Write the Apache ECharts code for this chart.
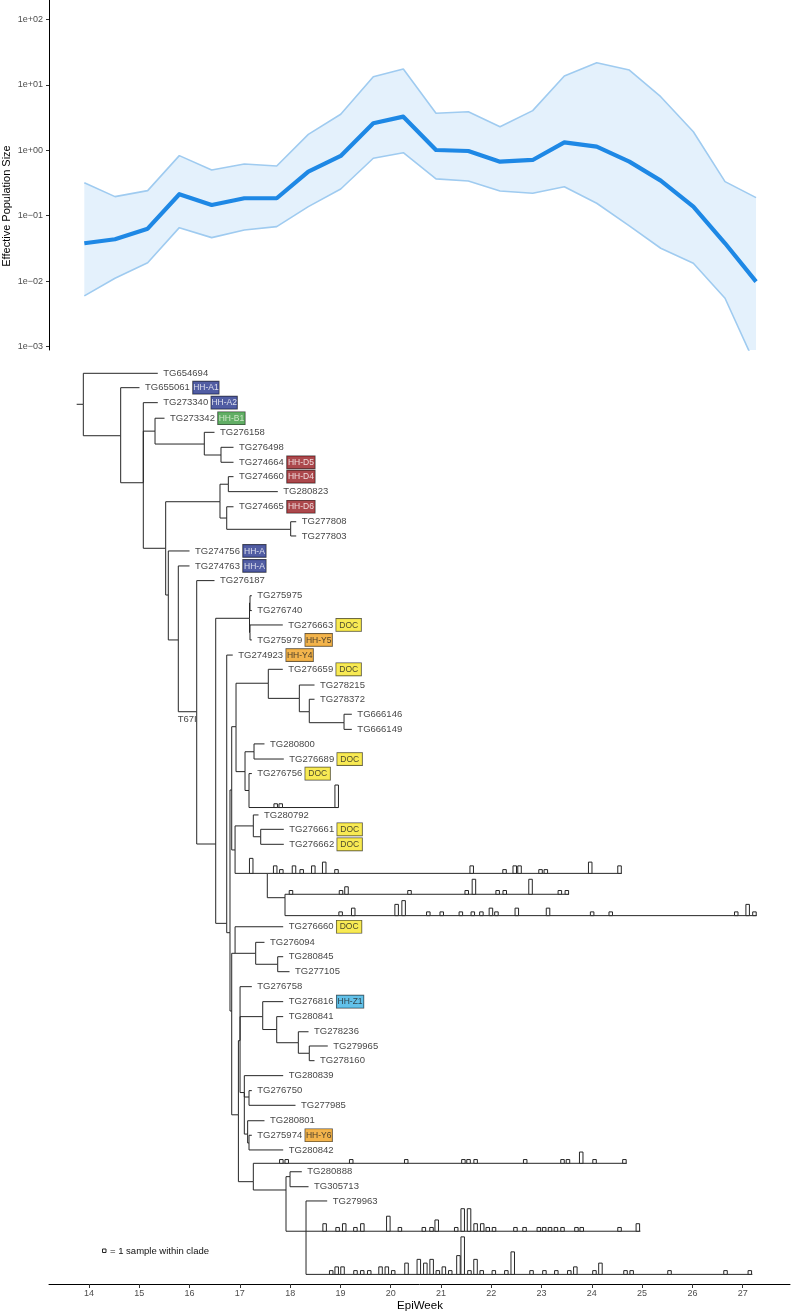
<!DOCTYPE html>
<html><head><meta charset="utf-8">
<script src="https://cdn.jsdelivr.net/npm/echarts@6/dist/echarts.min.js"></script>
<style>html,body{margin:0;padding:0;background:#fff}#c{width:792px;height:1313px}</style>
</head><body><div id="c"></div>
<script>
// ---------- skyline (effective population size) ----------
const skyTimes  = [13.907,14.517,15.167,15.796,16.440,17.089,17.733,18.362,19.006,19.654,20.251,20.901,21.544,22.174,22.824,23.453,24.097,24.746,25.370,26.019,26.649,27.266];
const skyMedian = [0.038,0.0438,0.0635,0.213,0.146,0.185,0.185,0.471,0.818,2.58,3.26,1.01,0.975,0.67,0.711,1.32,1.135,0.67,0.344,0.138,0.038,0.00986];
const skyUpper  = [0.32,0.196,0.242,0.828,0.5,0.618,0.575,1.75,3.55,13.3,17.4,3.67,3.88,2.29,4.03,13.6,21.7,16.8,6.58,1.92,0.332,0.189];
const skyLower  = [0.00597,0.0111,0.0192,0.0658,0.0463,0.0607,0.0682,0.138,0.256,0.755,0.918,0.365,0.34,0.239,0.221,0.278,0.155,0.0698,0.0319,0.0188,0.0055,0.0005];
const neTickExponents = [-3,-2,-1,0,1,2];
const weekTicks = [14,15,16,17,18,19,20,21,22,23,24,25,26,27];

// ---------- tree: [id, parent, time (EpiWeek), row] ----------
const treeNodes = [
['s0',null,13.755,2.09],['r','s0',13.887,2.09],
['TG654694','r',15.368,0],['A','r',14.630,4.21],
['TG655061','A',15.004,0.97],['B','A',15.080,7.38],
['TG273340','B',15.368,1.98],['E','B',15.313,3.90],
['TG273342','E',15.502,3.03],['F','E',16.293,4.77],
['TG276158','F',16.496,3.98],['G','F',16.625,5.51],
['TG276498','G',16.874,4.99],['TG274664','G',16.874,6.00],
['D','B',15.525,11.80],['H','D',16.605,8.66],['I','H',16.771,7.48],
['TG274660','I',16.874,6.97],['TG280823','I',17.755,7.98],
['J','H',16.739,9.76],['TG274665','J',16.874,9.00],['K','J',18.011,10.52],
['TG277808','K',18.121,10.01],['TG277803','K',18.121,10.97],
['L','D',15.577,14.95],['TG274756','L',15.999,11.98],['M','L',15.776,17.98],
['TG274763','M',15.999,12.99],['N','M',16.142,22.82],
['TG276187','N',16.496,13.98],['O','N',16.520,31.74],
['Q','O',17.192,16.52],['Q1','Q',17.202,15.49],
['TG275975','Q1',17.238,15.00],['TG276740','Q1',17.238,16.00],
['Q2','Q',17.202,17.48],['TG276663','Q2',17.854,16.97],['TG275979','Q2',17.238,17.98],
['P','O',16.739,37.09],['TG274923','P',16.859,19.00],
['AG','P',16.804,37.72],['W','AG',16.838,28.10],['V','W',16.924,23.83],
['R','V',17.566,20.90],['TG276659','R',17.854,19.96],['S','R',18.183,21.92],
['TG278215','S',18.485,21.02],['T','S',18.381,22.82],['TG278372','T',18.485,21.98],
['U','T',19.072,23.56],['TG666146','U',19.227,22.99],['TG666149','U',19.227,24.01],
['X','V',17.103,26.86],['Y','X',17.282,25.52],
['TG280800','Y',17.490,24.99],['TG276689','Y',17.874,26.01],
['Z','X',17.182,28.13],['TG276756','Z',17.238,26.99],['C1','Z',18.958,29.28],
['AA','W',16.905,32.14],['AB','AA',17.268,30.52],['TG280792','AB',17.371,29.78],
['AC','AB',17.415,31.25],['TG276661','AC',17.874,30.75],['TG276662','AC',17.874,31.76],
['AD','AA',17.546,33.72],['C2','AD',24.595,33.72],
['AF','AD',17.898,35.36],['C3','AF',23.547,35.13],['C4','AF',27.280,36.57],
['BF','AG',16.838,43.0],['AL','BF',16.905,39.11],['TG276660','AL',17.862,37.32],
['AJ','AL',17.315,39.11],['TG276094','AJ',17.490,38.37],['AK','AJ',17.753,39.85],
['TG280845','AK',17.862,39.34],['TG277105','AK',17.988,40.35],
['BE','BF',16.971,50.0],['AM','BE',17.004,45.0],['TG276758','AM',17.238,41.36],
['AN','AM',17.455,43.38],['TG276816','AN',17.862,42.37],['AO','AN',17.733,44.25],
['TG280841','AO',17.862,43.38],['AP','AO',18.163,45.14],['TG278236','AP',18.366,44.40],
['AQ','AP',18.381,45.85],['TG279965','AQ',18.749,45.36],['TG278160','AQ',18.485,46.35],
['AZ','AM',17.089,48.5],['TG280839','AZ',17.862,47.36],
['BB','AZ',17.182,48.8],['TG276750','BB',17.238,48.37],['TG277985','BB',18.107,49.36],
['BC','AZ',17.155,51.3],['TG280801','BC',17.490,50.40],
['BD','BC',17.182,51.9],['TG275974','BD',17.238,51.38],['TG280842','BD',17.862,52.37],
['AR','BE',17.268,54.51],['C5','AR',24.694,53.27],
['AS','AR',17.918,55.07],['AT','AS',17.998,54.17],
['TG280888','AT',18.232,53.84],['TG305713','AT',18.366,54.85],
['AU','AS',18.316,57.85],['TG279963','AU',18.737,55.81],
['C6','AU',24.965,57.85],['C7','AU',27.192,60.76]
];
const tipTags = [['TG655061','HH-A1'],['TG273340','HH-A2'],['TG273342','HH-B1'],['TG274664','HH-D5'],
['TG274660','HH-D4'],['TG274665','HH-D6'],['TG274756','HH-A'],['TG274763','HH-A'],['TG276663','DOC'],
['TG275979','HH-Y5'],['TG274923','HH-Y4'],['TG276659','DOC'],['TG276689','DOC'],['TG276756','DOC'],
['TG276661','DOC'],['TG276662','DOC'],['TG276660','DOC'],['TG276816','HH-Z1'],['TG275974','HH-Y6']];
const nodeLabels = [['N','T67I']];

// ---------- collapsed clades: samples per day [time, count] ----------
const clade1Bars = [[17.713,1],[17.813,1],[18.926,6]];
const clade2Bars = [[17.226,4],[17.703,2],[17.825,1],[18.077,2],[18.230,1],[18.461,2],[18.678,3],[18.922,1],[21.611,2],[22.264,1],[22.467,2],[22.562,2],[22.980,1],[23.085,1],[23.968,3],[24.551,2]];
const clade3Bars = [[18.017,1],[19.012,1],[19.121,2],[20.374,1],[21.512,1],[21.655,4],[22.127,1],[22.268,1],[22.781,4],[23.364,1],[23.503,1]];
const clade4Bars = [[19.004,1],[19.255,2],[20.118,3],[20.257,4],[20.748,1],[21.015,1],[21.395,1],[21.633,1],[21.804,1],[21.993,2],[22.103,1],[22.508,2],[23.129,2],[24.006,1],[24.376,1],[26.872,1],[27.099,3],[27.234,1]];
const clade5Bars = [[17.825,1],[17.932,1],[19.215,1],[20.309,1],[21.446,1],[21.548,1],[21.689,1],[22.675,1],[23.417,1],[23.525,1],[23.789,3],[24.054,1],[24.648,1]];
const clade6Bars = [[18.686,2],[18.944,1],[19.076,2],[19.298,1],[19.436,2],[19.953,4],[20.183,1],[20.659,1],[20.812,1],[20.915,3],[21.303,1],[21.432,6],[21.558,6],[21.689,2],[21.820,2],[21.930,1],[22.055,1],[22.481,1],[22.662,1],[22.946,1],[23.052,1],[23.169,1],[23.286,1],[23.417,1],[23.694,1],[23.799,1],[24.551,1],[24.915,2]];
const clade7Bars = [[18.817,1],[18.926,2],[19.042,2],[19.300,1],[19.434,1],[19.573,1],[19.798,2],[19.923,2],[20.050,1],[20.315,3],[20.559,4],[20.689,3],[20.814,4],[20.937,1],[21.057,2],[21.184,1],[21.347,5],[21.432,10],[21.566,1],[21.687,4],[21.810,1],[22.051,1],[22.300,1],[22.427,6],[22.801,1],[23.057,1],[23.294,1],[23.552,1],[23.672,2],[24.052,1],[24.171,3],[24.670,1],[24.792,1],[25.545,1],[26.659,1],[27.142,1]];
const cladeHistograms = [['C1',clade1Bars],['C2',clade2Bars],['C3',clade3Bars],['C4',clade4Bars],['C5',clade5Bars],['C6',clade6Bars],['C7',clade7Bars]];

// ---------- build ----------
const FONT = '"Liberation Sans", Arial, Helvetica, sans-serif';
const X_MIN = 13.2045, X_MAX = 27.941;
const byId = {}; treeNodes.forEach(n => byId[n[0]] = n);
const edgeData = treeNodes.filter(n => n[1]).map(n => { const p = byId[n[1]]; return [p[2], p[3], n[2], n[3]]; });
const barData = [];
cladeHistograms.forEach(([id, bars]) => { const n = byId[id]; bars.forEach(([t, c]) => barData.push([t, n[3], c])); });
const tagOf = {}; tipTags.forEach(([id, tag]) => tagOf[id] = tag);
const tips = treeNodes.filter(n => n[0].startsWith('TG'));
function tagKey(tag){
  if (tag === 'DOC') return 'tDOC';
  if (tag === 'HH-A') return 'tA4';
  return 't' + tag.charAt(3);
}
function tagStyle(bg, fg, w){
  return {backgroundColor:bg, color:fg, borderColor:'#1a1a1a', borderWidth:0.6, fontSize:8.5, fontFamily:FONT,
          width:w, align:'center', height:11, lineHeight:11, padding:[1,1,0.5,1], verticalAlign:'middle'};
}
const rich = {
  n: {fontSize:9.5, fontFamily:FONT, color:'#111111', padding:[0,3,0,0], verticalAlign:'middle'},
  tA: tagStyle('#26358c','#ffffff',24),
  tA4: tagStyle('#26358c','#ffffff',21),
  tB: tagStyle('#399a3e','#e8f5e0',25),
  tD: tagStyle('#971a1f','#ffffff',26),
  tDOC: tagStyle('#f6e529','#222222',23),
  tY: tagStyle('#f0a11f','#222222',25),
  tZ: tagStyle('#3bb2e3','#222222',25)
};
const tipData = tips.map(n => ({value:[n[2], n[3]], name:n[0], tag:tagOf[n[0]] || null}));
const fmtExp = v => { const e = Math.round(v); if (Math.abs(v - e) > 1e-6) return ''; return '1e' + (e < 0 ? '\u2212' : '+') + String(Math.abs(e)).padStart(2,'0'); };

const chart = echarts.init(document.getElementById('c'), null, {renderer:'canvas'});
chart.setOption({
  animation:false,
  backgroundColor:'#ffffff',
  grid:[
    {left:49, right:2, top:0, height:350},
    {left:49, right:2, top:350, bottom:29}
  ],
  xAxis:[
    {gridIndex:0, type:'value', min:X_MIN, max:X_MAX, show:false},
    {gridIndex:1, type:'value', min:X_MIN, max:X_MAX, position:'bottom',
     axisLine:{show:true, onZero:false, lineStyle:{color:'#000', width:1}},
     axisTick:{show:true, length:4, lineStyle:{color:'#333'}, customValues:weekTicks},
     axisLabel:{show:true, color:'#4d4d4d', fontSize:9, fontFamily:FONT, margin:5, customValues:weekTicks,
                formatter:v => String(Math.round(v))},
     splitLine:{show:false}}
  ],
  yAxis:[
    {gridIndex:0, type:'value', min:-3.0504, max:2.2948,
     axisLine:{show:true, onZero:false, lineStyle:{color:'#000', width:1}},
     axisTick:{show:true, length:3, lineStyle:{color:'#333'}, customValues:neTickExponents},
     axisLabel:{show:true, color:'#4d4d4d', fontSize:9, fontFamily:FONT, margin:6, customValues:neTickExponents, formatter:fmtExp},
     splitLine:{show:false}},
    {gridIndex:1, type:'value', min:-1.571, max:61.409, inverse:true, show:false}
  ],
  series:[
    {type:'custom', xAxisIndex:0, yAxisIndex:0, clip:true, silent:true, data:[[skyTimes[0], Math.log10(skyMedian[0])]],
     renderItem:(params, api) => {
       const pts = [];
       skyTimes.forEach((t,i) => pts.push(api.coord([t, Math.log10(skyUpper[i])])));
       for (let i = skyTimes.length - 1; i >= 0; i--) pts.push(api.coord([skyTimes[i], Math.log10(skyLower[i])]));
       return {type:'polygon', shape:{points:pts}, style:{fill:'#e4f1fc', stroke:null}};
     }},
    {type:'line', xAxisIndex:0, yAxisIndex:0, silent:true, showSymbol:false, symbol:'none',
     data:skyTimes.map((t,i) => [t, Math.log10(skyUpper[i])]), lineStyle:{color:'#9fcbf0', width:1.6}, z:3},
    {type:'line', xAxisIndex:0, yAxisIndex:0, silent:true, showSymbol:false, symbol:'none',
     data:skyTimes.map((t,i) => [t, Math.log10(skyLower[i])]), lineStyle:{color:'#9fcbf0', width:1.6}, z:3},
    {type:'line', xAxisIndex:0, yAxisIndex:0, silent:true, showSymbol:false, symbol:'none',
     data:skyTimes.map((t,i) => [t, Math.log10(skyMedian[i])]), lineStyle:{color:'#1e88e5', width:4.2, join:'round'}, z:4},
    // tree branches
    {type:'custom', xAxisIndex:1, yAxisIndex:1, silent:true, clip:false, data:edgeData,
     encode:{x:[0,2], y:[1,3]},
     renderItem:(params, api) => {
       const a = api.coord([api.value(0), api.value(1)]);
       const b = api.coord([api.value(0), api.value(3)]);
       const c = api.coord([api.value(2), api.value(3)]);
       return {type:'polyline', shape:{points:[a,b,c]}, style:{stroke:'#262626', lineWidth:1, fill:null}};
     }, z:2},
    // clade sample histograms
    {type:'custom', xAxisIndex:1, yAxisIndex:1, silent:true, clip:false, data:barData,
     encode:{x:0, y:1},
     renderItem:(params, api) => {
       const t = api.value(0), row = api.value(1), c = api.value(2);
       const halfW = 0.035, unit = 0.2529;
       const p0 = api.coord([t - halfW, row - c * unit]);
       const p1 = api.coord([t + halfW, row]);
       return {type:'rect', shape:{x:p0[0], y:p0[1], width:p1[0]-p0[0], height:p1[1]-p0[1]},
               style:{fill:'#ffffff', stroke:'#262626', lineWidth:1}};
     }, z:3},
    // tip labels
    {type:'scatter', xAxisIndex:1, yAxisIndex:1, silent:true, symbolSize:0, data:tipData, z:5,
     label:{show:true, position:'right', distance:5.5, rich:rich,
            formatter:p => { const d = p.data; return d.tag ? '{n|' + d.name + '}{' + tagKey(d.tag) + '|' + d.tag + '}' : '{n|' + d.name + '}'; }}},
    // node annotations
    {type:'scatter', xAxisIndex:1, yAxisIndex:1, silent:true, symbolSize:0, z:5,
     data:nodeLabels.map(([id, txt]) => ({value:[byId[id][2], byId[id][3]], name:txt})),
     label:{show:true, position:'left', distance:0, offset:[0,8], fontSize:9.5, fontFamily:FONT, color:'#111111',
            formatter:p => p.name}}
  ],
  graphic:[
    {type:'text', x:7, y:206, rotation:Math.PI/2, style:{text:'Effective Population Size', font:'11px ' + FONT, fill:'#000', align:'center', verticalAlign:'middle'}},
    {type:'text', x:420, y:1306, style:{text:'EpiWeek', font:'11.5px ' + FONT, fill:'#000', align:'center', verticalAlign:'middle'}},
    {type:'rect', shape:{x:102.5, y:1249, width:3.5, height:3.5}, style:{fill:'#fff', stroke:'#262626', lineWidth:1}},
    {type:'text', x:110, y:1251, style:{text:'= 1 sample within clade', font:'9.5px ' + FONT, fill:'#111111', align:'left', verticalAlign:'middle'}}
  ]
});
</script>
</body></html>
